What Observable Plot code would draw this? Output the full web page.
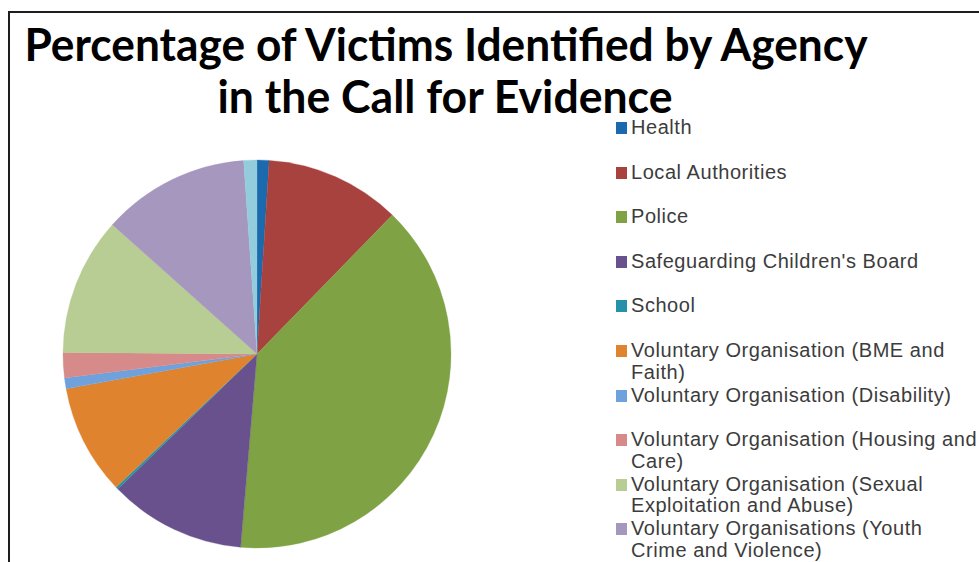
<!DOCTYPE html>
<html>
<head>
<meta charset="utf-8">
<script src="https://cdn.jsdelivr.net/npm/d3@7"></script>
<script src="https://cdn.jsdelivr.net/npm/@observablehq/plot@0.6"></script>
<style>
  html, body { margin: 0; padding: 0; background: #fff; width: 979px; height: 562px; overflow: hidden; }
  #frame { position: absolute; left: 8px; top: 11px; width: 990px; height: 570px;
           border-top: 2px solid #1e1e1e; border-left: 2px solid #1e1e1e; }
  #chart { position: absolute; left: 0; top: 0; }
  #title { position: absolute; left: 0; top: 0; }
  #legend { position: absolute; left: 616px; top: 117px; width: 366px;
            font-family: "Liberation Sans", Arial, sans-serif; font-size: 20px;
            letter-spacing: 0.55px; color: #3c3c3c; }
  .item { position: relative; height: 44.6px; padding-left: 15px; line-height: 21.7px; }
  .sw { position: absolute; left: 0; top: 5px; width: 11px; height: 12px; }
</style>
</head>
<body>
<div id="frame"></div>
<div id="chart"></div>
<svg id="title" width="979" height="130"></svg>
<div id="legend"></div>
<script>
const titleLines = ["Percentage of Victims Identified by Agency", "in the Call for Evidence"];

const categories = [
  "Health",
  "Local Authorities",
  "Police",
  "Safeguarding Children's Board",
  "School",
  "Voluntary Organisation (BME and Faith)",
  "Voluntary Organisation (Disability)",
  "Voluntary Organisation (Housing and Care)",
  "Voluntary Organisation (Sexual Exploitation and Abuse)",
  "Voluntary Organisations (Youth Crime and Violence)",
  "Other"
];
// percentage of victims
const values = [1.0, 11.3, 39.1, 11.4, 0.2, 9.2, 0.9, 2.1, 11.5, 12.3, 1.1];
const colors = ["#1c6aae", "#a8423f", "#7ea244", "#69518e", "#2592a8", "#e0832f",
                "#6fa2dc", "#d68a8a", "#b8cd93", "#a597be", "#93cddd"];
// the legend in the picture is cut off after ten entries
const legendCount = 10;

const data = categories.map((c, i) => ({category: c, value: values[i]}));

const color = Plot.scale({color: {type: "ordinal", domain: categories, range: colors}});

const pieMark = (index, scales) => {
  const cx = scales.x(0), cy = scales.y(0);
  const r = scales.x(1) - scales.x(0);
  const arcs = d3.pie().sort(null).value(d => d.value)(data);
  const arc = d3.arc().innerRadius(0).outerRadius(r);
  const g = d3.create("svg:g").attr("transform", `translate(${cx},${cy})`);
  g.selectAll("path").data(arcs).join("path")
    .attr("d", arc)
    .attr("fill", d => color.apply(d.data.category))
    .attr("stroke", d => color.apply(d.data.category))
    .attr("stroke-width", 0.3);
  return g.node();
};

const plot = Plot.plot({
  width: 979,
  height: 562,
  margin: 0,
  x: {domain: [-1, 1], range: [63, 451], axis: null},
  y: {domain: [-1, 1], range: [548, 160], axis: null},
  marks: [
    Plot.dot([{x: 0, y: 0}], {x: "x", y: "y", r: 0}),
    pieMark
  ]
});
plot.style.background = "transparent";
document.getElementById("chart").appendChild(plot);

// title
const tsvg = d3.select("#title");
const tspecs = [{x: 446, y: 61, len: 843}, {x: 445, y: 113, len: 455}];
titleLines.forEach((t, i) => {
  tsvg.append("text")
    .attr("x", tspecs[i].x).attr("y", tspecs[i].y)
    .attr("text-anchor", "middle")
    .attr("font-family", "Lato, 'Open Sans', sans-serif")
    .attr("font-weight", 700)
    .attr("font-size", 45)
    .attr("fill", "#000")
    .attr("textLength", tspecs[i].len)
    .attr("lengthAdjust", "spacingAndGlyphs")
    .text(t);
});

// legend
const legend = d3.select("#legend");
categories.slice(0, legendCount).forEach(c => {
  const it = legend.append("div").attr("class", "item");
  it.append("div").attr("class", "sw").style("background", color.apply(c));
  it.append("span").text(c);
});
</script>
</body>
</html>
